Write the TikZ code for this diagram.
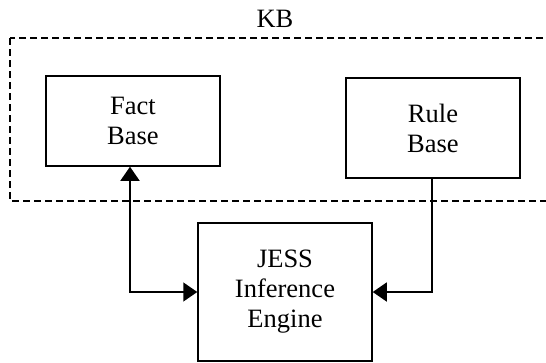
\documentclass[tikz,border=0pt]{standalone}
\usepackage{fontspec}
\setmainfont{Liberation Serif}
\usepackage{tikz}
\usetikzlibrary{arrows.meta,calc}
\tikzstyle{centered} = [align=center, text centered, font=\fontsize{26.5}{30}\selectfont]
\tikzstyle{base} = [centered, draw, line width=1.5pt, rectangle, inner sep=0pt]
\tikzstyle{empty} = [centered, inner sep=0pt]
\tikzstyle{link} = [line width=1.5pt, -{Triangle[length=14pt,width=19pt]}]

\begin{document}
\begin{tikzpicture}
    [x=1pt,y=-1pt]
      \useasboundingbox (0,0) rectangle (546,362);
      \node [empty](kbl) at (275,19) {KB};
      \draw [line width=1.3pt, dash pattern=on 7pt off 4pt] (10,38) rectangle (570,201);
      \node [base, minimum width=174pt, minimum height=90pt](fact) at (133,121) {Fact\\Base};
      \node [base, minimum width=174pt, minimum height=100pt](rule) at (433,128) {Rule\\Base};
      \node [base, minimum width=174pt, minimum height=138pt](jess) at (285,292) {JESS\\Inference\\Engine};
    
      \draw [link, {Triangle[length=14pt,width=19pt]}-{Triangle[length=14pt,width=19pt]}]
        ([xshift=-3pt]fact.south) |- (jess.west);
      \draw [link] ([xshift=-1pt]rule.south) |- (jess.east);
    
    \end{tikzpicture}
\end{document}
